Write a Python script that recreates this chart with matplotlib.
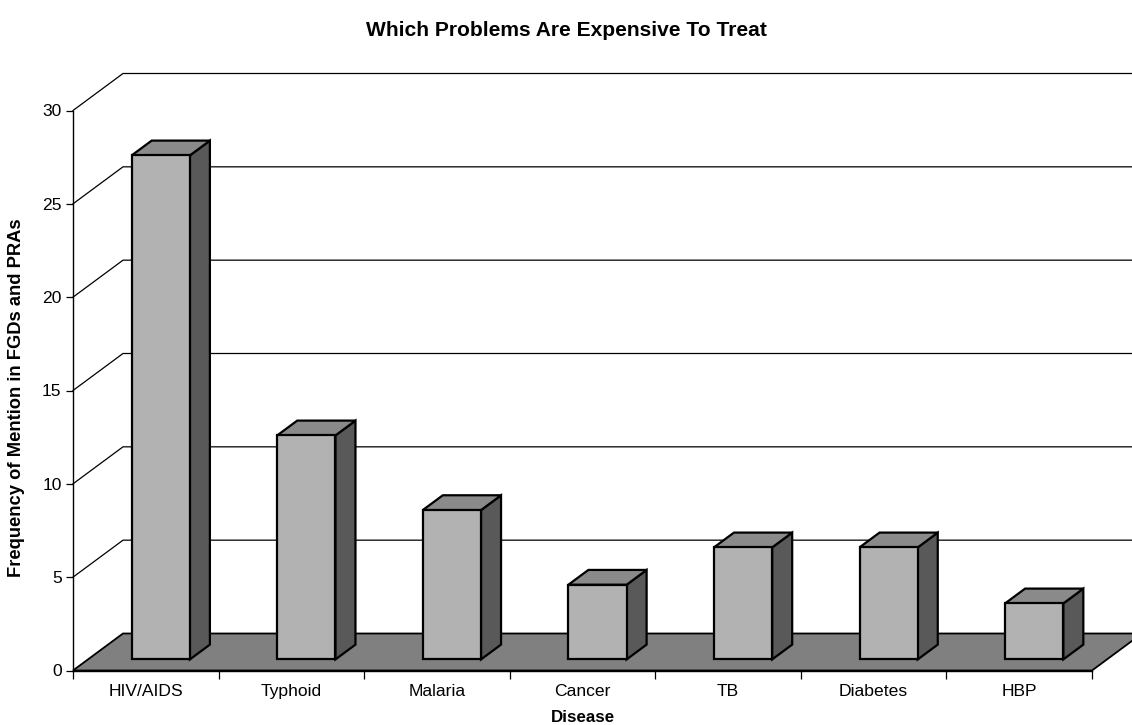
import matplotlib
matplotlib.use("Agg")
import matplotlib.pyplot as plt
from matplotlib.patches import Polygon
from matplotlib.lines import Line2D

# Data
diseases = ["HIV/AIDS", "Typhoid", "Malaria", "Cancer", "TB", "Diabetes", "HBP"]
mentions = [27, 12, 8, 4, 6, 6, 3]
y_ticks = [0, 5, 10, 15, 20, 25, 30]

plt.rcParams["font.family"] = ["Liberation Sans", "DejaVu Sans"]

W, H, DPI = 1132, 725, 100
fig = plt.figure(figsize=(W / DPI, H / DPI), dpi=DPI)

# front plane of the pseudo-3D box (pixel geometry of the axes)
left_px, right_px, base_px, top_px = 73, 1092, 670.5, 110.5
ax = fig.add_axes([left_px / W, 1 - base_px / H,
                   (right_px - left_px) / W, (base_px - top_px) / H])
n = len(diseases)
ymax = y_ticks[-1]
ax.set_xlim(0, n)
ax.set_ylim(0, ymax)

# depth of the box: 50 px right, 37 px up, expressed in data units
DX = 50 / ((right_px - left_px) / n)
DY = 37 / ((base_px - top_px) / ymax)

# floor
floor = Polygon([(0, 0), (n, 0), (n + DX, DY), (DX, DY)], closed=True,
                facecolor="#808080", edgecolor="black", lw=1.3,
                clip_on=False, zorder=1)
ax.add_patch(floor)

# gridlines on the left and back walls
for v in y_ticks[1:]:
    ax.add_line(Line2D([0, DX, n + DX + 1], [v, v + DY, v + DY],
                       color="black", lw=0.9, clip_on=False, zorder=0.5))

# bars with front, top and side faces
front_c, top_c, side_c = "#b2b2b2", "#8a8a8a", "#595959"
d0, d1 = 0.3, 0.4          # bar start depth and bar depth (fraction of box)
bw = 0.4                   # bar width in category units
for i, v in enumerate(mentions):
    x0 = i + (1 - bw) / 2 + d0 * DX
    y0 = d0 * DY
    ddx, ddy = d1 * DX, d1 * DY
    front = [(x0, y0), (x0 + bw, y0), (x0 + bw, y0 + v), (x0, y0 + v)]
    top = [(x0, y0 + v), (x0 + bw, y0 + v),
           (x0 + bw + ddx, y0 + v + ddy), (x0 + ddx, y0 + v + ddy)]
    side = [(x0 + bw, y0), (x0 + bw + ddx, y0 + ddy),
            (x0 + bw + ddx, y0 + v + ddy), (x0 + bw, y0 + v)]
    for pts, fc in ((side, side_c), (top, top_c), (front, front_c)):
        ax.add_patch(Polygon(pts, closed=True, facecolor=fc,
                             edgecolor="black", lw=1.6, joinstyle="miter",
                             clip_on=False, zorder=3))

# axes
for s in ("top", "right"):
    ax.spines[s].set_visible(False)
for s in ("left", "bottom"):
    ax.spines[s].set_linewidth(1.0)
    ax.spines[s].set_zorder(2)
ax.set_facecolor("none")

ax.set_yticks(y_ticks)
ax.tick_params(axis="y", direction="out", length=5.2, width=0.9,
               labelsize=12.6, pad=3)
ax.set_xticks(range(n + 1))
ax.set_xticklabels([])
ax.tick_params(axis="x", which="major", direction="out", length=5.5, width=0.9)
ax.set_xticks([i + 0.5 for i in range(n)], minor=True)
ax.set_xticklabels(diseases, minor=True)
ax.tick_params(axis="x", which="minor", length=0, labelsize=12.6, pad=10)

fig.text(566 / W, 1 - 30 / H, "Which Problems Are Expensive To Treat",
         ha="center", va="center", fontsize=15.1, fontweight="bold")
fig.text(582.5 / W, 1 - 718 / H, "Disease", ha="center", va="center",
         fontsize=12.2, fontweight="bold")
fig.text(17 / W, 1 - 398 / H, "Frequency of Mention in FGDs and PRAs",
         ha="center", va="center", rotation=90, fontsize=13.2,
         fontweight="bold")

fig.savefig("out.png", dpi=DPI, facecolor="white")
